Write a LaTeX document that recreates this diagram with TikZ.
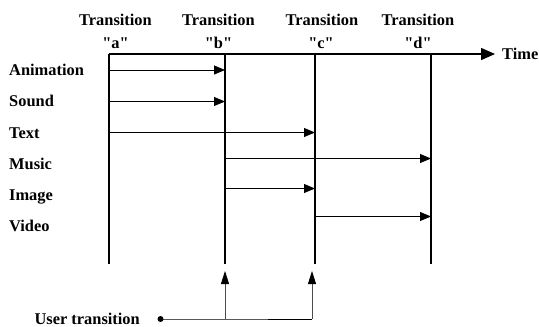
\documentclass[tikz,border=0pt]{standalone}
\usepackage{fontspec}
\newfontfamily\plainserif{Liberation Serif}
\usetikzlibrary{arrows.meta}
\tikzset{
  lab/.style={font=\plainserif\fontsize{16.4}{16.4}\selectfont\bfseries,inner sep=0pt,text=black},
  rowlab/.style={lab,anchor=base west},
  axisline/.style={line width=1.4pt,draw=black},
  barline/.style={line width=1.3pt,draw=black},
  spanarrow/.style={line width=0.8pt,draw=black,-{Triangle[length=11pt,width=9pt]}},
  userline/.style={line width=0.8pt,draw=black},
  userarrow/.style={line width=0.8pt,draw=black!70,-{Triangle[length=13pt,width=8pt,black]}},
  dotmark/.style={circle,fill=black,inner sep=0pt,minimum size=6pt}
}
\begin{document}
\begin{tikzpicture}[x=1pt,y=-1pt]
\useasboundingbox (0,0) rectangle (539,327);
% header labels
\node[lab,anchor=base] (ta) at (115.5,25) {Transition};
\node[lab,anchor=base] (tb) at (218.5,25) {Transition};
\node[lab,anchor=base] (tc) at (322,25) {Transition};
\node[lab,anchor=base] (td) at (418,25) {Transition};
\node[lab,anchor=base] (qa) at (115.5,48) {"a"};
\node[lab,anchor=base] (qb) at (218.5,48) {"b"};
\node[lab,anchor=base] (qc) at (321,48) {"c"};
\node[lab,anchor=base] (qd) at (418,48) {"d"};
\node[lab,anchor=base west] (time) at (502,59.5) {Time};
% row labels
\node[rowlab] (anim) at (9,75.5) {Animation};
\node[rowlab] (sound) at (9,106.5) {Sound};
\node[rowlab] (text) at (9,138) {Text};
\node[rowlab] (music) at (9,169) {Music};
\node[rowlab] (image) at (9,200) {Image};
\node[rowlab] (video) at (9,231.5) {Video};
\node[lab,anchor=base east] (user) at (140,324.5) {User transition};
% timeline
\coordinate (A0) at (109,54);
\coordinate (B0) at (225,54);
\coordinate (C0) at (315,54);
\coordinate (D0) at (431,54);
\coordinate (E0) at (495,54);
\coordinate (A1) at (109,264);
\coordinate (B1) at (225,264);
\coordinate (C1) at (315,264);
\coordinate (D1) at (431,264);
\draw[axisline,-{Triangle[length=14pt,width=12pt]}] (A0) -- (E0);
\draw[barline] (A0) -- (A1);
\draw[barline] (B0) -- (B1);
\draw[barline] (C0) -- (C1);
\draw[barline] (D0) -- (D1);
% spans
\draw[spanarrow] (A0 |- 0,70) -- (B0 |- 0,70);
\draw[spanarrow] (A0 |- 0,101.5) -- (B0 |- 0,101.5);
\draw[spanarrow] (A0 |- 0,132.5) -- (C0 |- 0,132.5);
\draw[spanarrow] (B0 |- 0,158.5) -- (D0 |- 0,158.5);
\draw[spanarrow] (B0 |- 0,188.5) -- (C0 |- 0,188.5);
\draw[spanarrow] (C0 |- 0,216.5) -- (D0 |- 0,216.5);
% user transition
\node[dotmark] (dot) at (160.5,319) {};
\coordinate (j1) at (225,319);
\coordinate (j2) at (312,319);
\coordinate (u1) at (225,271);
\coordinate (u2) at (312,271);
\draw[userarrow] (j1) -- (u1);
\draw[userarrow] (j2) -- (u2);
\draw[userline] (dot.center) -- (j1) -- (j2);
\end{tikzpicture}
\end{document}
